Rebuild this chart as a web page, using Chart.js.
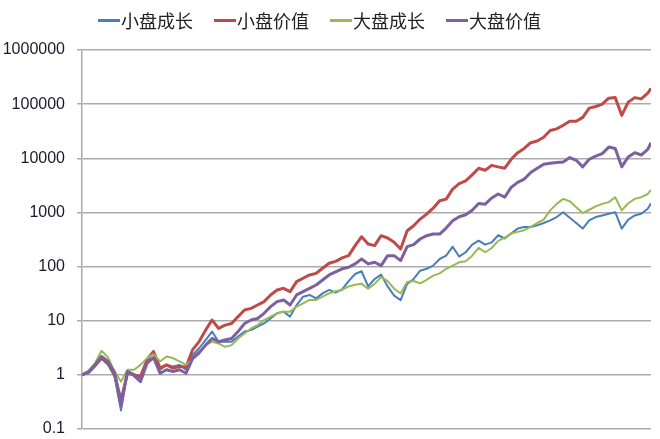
<!DOCTYPE html>
<html>
<head>
<meta charset="utf-8">
<script src="https://cdn.jsdelivr.net/npm/chart.js@4/dist/chart.umd.min.js"></script>
<style>
  html, body { margin: 0; padding: 0; background: #fff; }
  #wrap { position: relative; width: 660px; height: 439px; }
  #legend { position: absolute; left: 98px; top: 8px; display: flex; gap: 21px;
    font-family: "Noto Sans CJK SC", sans-serif; font-size: 18px; color: #222; line-height: 24px; }
  .item { display: flex; align-items: center; }
  .sw { width: 22px; height: 3px; margin-right: 1px; }
  canvas { position: absolute; left: 0; top: 0; }
</style>
</head>
<body>
<div id="wrap">
  <canvas id="c" width="660" height="439"></canvas>
  <div id="legend"></div>
</div>
<script>
const seriesNames = ['小盘成长', '小盘价值', '大盘成长', '大盘价值'];
const yTickValues = [0.1, 1, 10, 100, 1000, 10000, 100000, 1000000];
const yTickLabels = ['0.1', '1', '10', '100', '1000', '10000', '100000', '1000000'];

const years = [1926.5,1927.5,1928.5,1929.5,1930.5,1931.5,1932.5,1933.5,1934.5,1935.5,
 1936.5,1937.5,1938.5,1939.5,1940.5,1941.5,1942.5,1943.5,1944.5,1945.5,
 1946.5,1947.5,1948.5,1949.5,1950.5,1951.5,1952.5,1953.5,1954.5,1955.5,
 1956.5,1957.5,1958.5,1959.5,1960.5,1961.5,1962.5,1963.5,1964.5,1965.5,
 1966.5,1967.5,1968.5,1969.5,1970.5,1971.5,1972.5,1973.5,1974.5,1975.5,
 1976.5,1977.5,1978.5,1979.5,1980.5,1981.5,1982.5,1983.5,1984.5,1985.5,
 1986.5,1987.5,1988.5,1989.5,1990.5,1991.5,1992.5,1993.5,1994.5,1995.5,
 1996.5,1997.5,1998.5,1999.5,2000.5,2001.5,2002.5,2003.5,2004.5,2005.5,
 2006.5,2007.5,2008.5,2009.5,2010.5,2011.5,2012.5,2013.5,2014.0];

const smallGrowth = [1,1.07,1.43,1.98,1.53,0.93,0.22,1.19,1.03,0.87,
 1.77,2.09,1.24,1.53,1.43,1.53,1.24,2.3,3.1,4.4,
 6.3,4.1,4.1,4.1,5.1,6.3,6.7,7.75,8.9,11.0,
 13.7,14.7,11.9,19.5,27.8,29.9,25.9,32,37,33,
 38,54,73,82,43,59,71,43,29,24,
 48,59,84,91,104,138,159,233,153,184,
 254,301,254,280,379,330,407,503,540,540,
 578,638,714,822,1010,799,638,503,714,822,
 881,946,1010,503,735,881,946,1170,1480];

const smallValue = [1,1.15,1.49,2.09,1.64,1.03,0.34,1.07,1.0,0.93,
 1.90,2.70,1.33,1.53,1.33,1.43,1.40,2.9,4.1,6.7,
 10.3,7.2,8.3,8.9,11.9,15.8,16.9,19.5,22.5,29.9,
 37,39.7,34.4,52.7,60.8,70,75,93,115,125,
 145,159,244,356,261,244,372,337,281,211,
 460,569,754,931,1200,1640,1760,2690,3420,3830,
 4930,6550,6010,7400,6940,6560,9590,12700,15200,19400,
 20800,24500,32500,34900,40700,48200,48200,57000,84500,90600,
 100000,129000,132000,62100,109000,132000,125000,159000,196000];

const bigGrowth = [1,1.19,1.64,2.78,2.09,1.15,0.75,1.24,1.24,1.53,
 2.04,2.41,1.77,2.19,2.04,1.77,1.53,1.95,2.4,3.54,
 4.1,3.8,3.3,3.54,4.7,5.8,7.2,8.3,10.3,11.9,
 13.7,14.7,14.7,18.2,20.9,24.2,24.2,27.8,32,35,
 37,43,46,48,39,48,64,54,39,32,
 52,54,49,57,68,75,91,104,120,125,
 159,221,184,220,299,344,407,437,469,540,
 638,735,1090,1440,1780,1610,1250,972,1120,1290,
 1440,1550,1910,1090,1480,1780,1910,2190,2600];

const bigValue = [1,1.12,1.53,2.19,1.77,1.12,0.27,1.15,0.97,0.75,
 1.64,2.09,1.07,1.24,1.15,1.24,1.07,2.0,2.6,3.54,
 4.7,4.1,4.4,4.7,6.3,8.9,10.3,11.0,13.7,18.2,
 22.5,24.2,19.5,29.9,34.4,39.7,45.7,56.6,70,80,
 91,97,112,138,112,120,104,159,159,129,
 233,254,323,372,399,399,515,703,832,906,
 1100,1460,1420,1850,2190,1910,2900,3590,4130,5470,
 6560,7770,8100,8340,8570,10300,9190,6940,9590,11000,
 12200,16100,15200,6940,10600,12700,11500,14600,19400];

const seriesValues = [smallGrowth, smallValue, bigGrowth, bigValue];
const seriesColors = ['#4A7EBB', '#BE4B48', '#98B954', '#7D60A0'];
const seriesWidths = [2, 3, 2, 3];
const seriesOrder = [3, 2, 1, 0];

const datasets = seriesValues.map((vals, s) => ({
  label: seriesNames[s],
  data: years.map((yr, i) => ({ x: yr, y: vals[i] })),
  borderColor: seriesColors[s],
  backgroundColor: seriesColors[s],
  borderWidth: seriesWidths[s],
  pointRadius: 0,
  tension: 0,
  borderJoinStyle: 'round',
  order: seriesOrder[s]
}));

// HTML legend (real text)
const legendEl = document.getElementById('legend');
seriesNames.forEach((name, s) => {
  const it = document.createElement('div'); it.className = 'item';
  const sw = document.createElement('span'); sw.className = 'sw'; sw.style.background = seriesColors[s];
  const tx = document.createElement('span'); tx.textContent = name;
  it.appendChild(sw); it.appendChild(tx); legendEl.appendChild(it);
});

new Chart(document.getElementById('c'), {
  type: 'line',
  data: { datasets },
  options: {
    responsive: false,
    animation: false,
    layout: { padding: { top: 50, right: 9, bottom: 10, left: 0 } },
    plugins: { legend: { display: false }, tooltip: { enabled: false } },
    scales: {
      x: {
        type: 'linear', min: 1926.5, max: 2014.0,
        grid: { display: false }, border: { display: false },
        ticks: { display: false },
        afterFit: (scale) => { scale.height = 0; }
      },
      y: {
        type: 'logarithmic',
        min: 0.1, max: 1000000,
        afterFit: (scale) => { scale.width = 82; scale.paddingTop = 10; scale.paddingBottom = 10; },
        afterBuildTicks: (scale) => { scale.ticks = yTickValues.map(v => ({ value: v })); },
        ticks: {
          padding: 12,
          color: '#1a1a2a',
          font: { family: '"Liberation Sans", Arial, sans-serif', size: 16 },
          callback: (v) => { const k = yTickValues.indexOf(v); return k >= 0 ? yTickLabels[k] : ''; }
        },
        grid: { color: '#ababab', lineWidth: 1.5, tickLength: 5, drawTicks: true },
        border: { display: true, color: '#ababab', width: 1.5 }
      }
    }
  }
});
</script>
</body>
</html>
